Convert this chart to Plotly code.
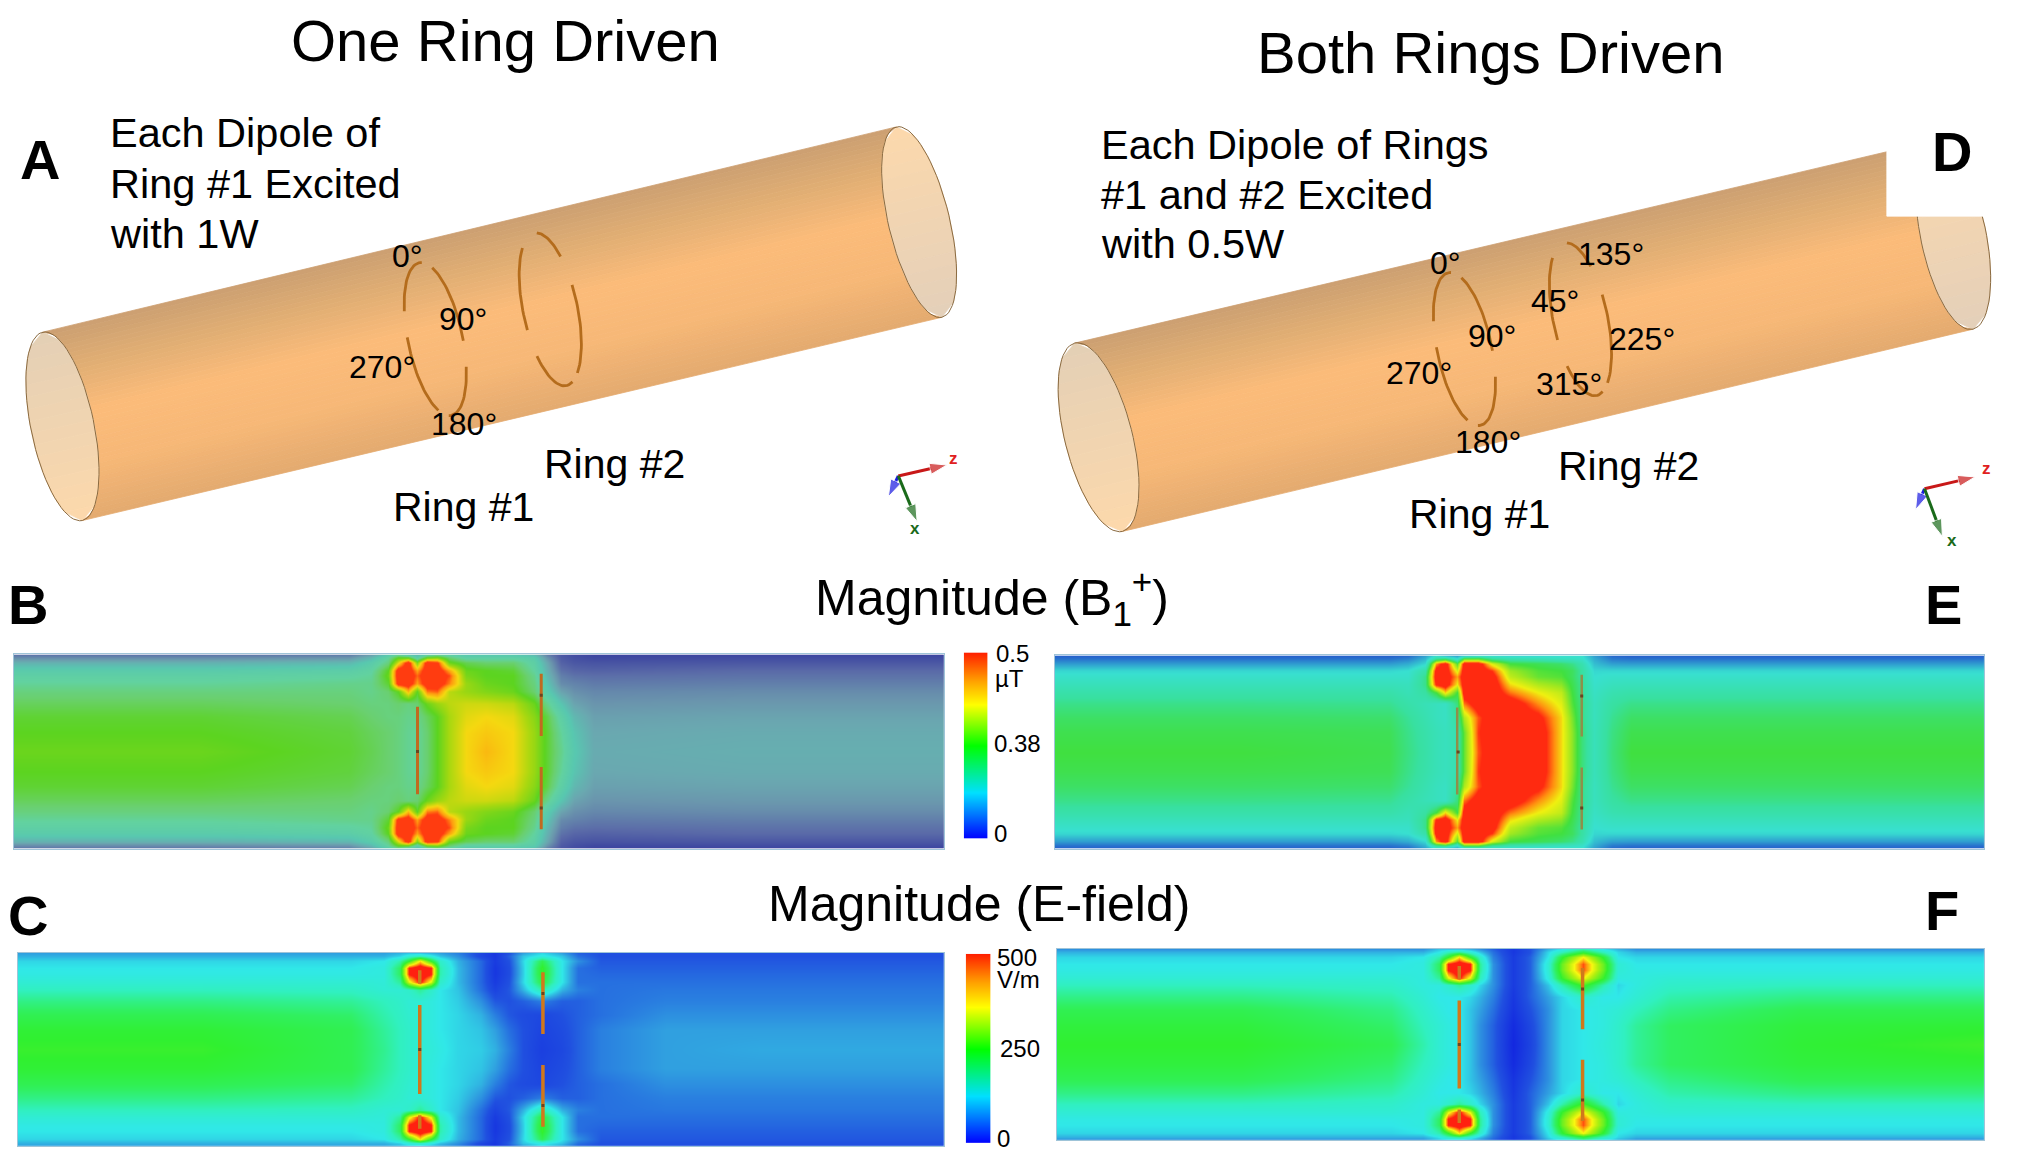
import numpy as np
import plotly.graph_objects as go

W, H = 2018, 1165
PAGE = 0.9915  # page-units to pixels for the page-wide axes

# ---------- field maps (levels 0-100 of each colour ramp) ----------
Y_HALF = [0, 1.5, 4, 8, 11, 15, 19, 25, 32, 40, 50]

B_X = [0, 20, 36, 38.4, 40.2, 41.3, 42.4, 43.3, 44.4, 45.5, 46.8, 48.6, 50.8, 53.7, 55.9, 57.3, 58.8, 60.2, 62.4, 78.4, 100]
B_Z = [
 [12,12,14,22,35,45,35,30,40,45,40,35,35,35,30,15,5,2,0,0,0],
 [18,18,20,30,45,60,60,40,62,65,52,42,42,42,38,20,6,3,1,2,2],
 [28,28,30,38,50,75,100,65,100,95,62,55,52,52,42,25,8,5,4,5,5],
 [38,38,40,44,60,100,100,85,100,100,85,62,60,58,45,28,12,9,8,10,10],
 [42,42,44,46,62,100,100,90,100,100,92,64,60,60,48,30,15,12,11,12,12],
 [46,46,48,48,58,98,100,85,100,100,88,68,62,60,50,34,18,16,14,15,15],
 [50,50,50,48,52,60,82,60,88,90,72,68,65,62,52,38,24,19,17,18,18],
 [54,54,52,50,50,52,50,52,62,68,72,74,74,72,62,48,34,24,20,21,21],
 [58,58,55,52,50,50,48,48,54,60,70,76,78,76,66,56,42,30,23,24,24],
 [60,60,57,54,52,50,47,46,52,60,70,78,80,78,68,58,46,34,25,26,26],
 [62,62,58,55,52,50,47,46,52,60,70,78,82,78,68,58,48,36,26,27,27],
]
E_X = [0, 20, 36, 38, 39.8, 41, 42, 43.3, 44, 45.5, 47, 49, 52, 54.5, 55.6, 56.7, 58, 60, 62, 78, 100]
E_Z = [
 [0,0,0,2,15,30,20,15,25,30,30,28,28,30,30,30,15,2,0,0,0],
 [4,4,4,8,20,45,50,30,60,60,45,40,38,35,34,32,18,6,4,4,4],
 [14,14,14,18,28,85,100,60,100,100,75,58,55,52,48,40,22,15,14,14,14],
 [28,28,28,30,42,98,100,75,100,100,92,68,60,58,54,44,28,28,28,28,28],
 [32,32,32,32,48,100,100,85,100,100,98,72,62,60,54,44,30,32,32,32,32],
 [37,37,37,36,48,95,100,78,100,100,100,80,70,66,56,46,32,36,37,37,37],
 [42,42,42,38,44,58,80,58,100,100,100,88,78,72,58,46,34,40,42,42,42],
 [48,48,47,42,38,36,34,50,88,100,100,100,86,76,60,48,36,44,48,48,48],
 [53,53,52,46,40,36,34,45,70,90,100,100,96,80,64,48,36,47,53,53,53],
 [56,56,55,48,42,38,36,40,62,92,100,100,100,80,66,50,37,49,56,56,56],
 [58,58,56,49,43,38,36,40,62,90,100,100,100,80,66,50,37,50,58,58,58],
]
C_X = [0, 20, 36, 39.5, 41.2, 42.2, 43.4, 44.6, 45.6, 47.5, 50, 51.5, 53, 54.5, 56.6, 58.7, 60.5, 63, 70, 80, 100]
C_Z = [
 [22,22,22,22,24,26,26,24,22,18,10,6,12,22,28,22,14,12,12,12,12],
 [24,24,24,24,28,34,38,32,26,20,10,6,14,26,32,26,16,12,12,12,12],
 [28,28,28,30,40,55,80,55,36,24,15,7,12,28,50,30,20,13,13,13,13],
 [30,30,30,32,48,94,100,94,40,25,15,6,11,27,56,30,16,14,14,14,14],
 [31,31,31,32,48,94,100,94,40,25,15,6,11,27,56,30,16,15,15,15,15],
 [34,34,34,33,42,75,95,75,36,25,15,7,12,28,52,30,16,16,16,16,16],
 [38,38,37,34,34,36,42,36,30,26,16,9,13,24,40,24,18,16,17,17,17],
 [44,44,42,38,36,34,34,32,30,27,20,13,12,14,18,14,14,16,18,18,18],
 [50,50,47,40,37,35,34,32,30,28,24,18,13,11,10,12,14,16,20,20,20],
 [54,54,50,42,38,36,34,32,30,28,26,22,16,12,9,11,14,18,22,22,22],
 [56,56,50,43,38,36,34,33,31,28,27,24,18,12,8,10,14,18,22,23,23],
]
F_X = [0, 20, 36, 39.5, 41.2, 42.2, 43.4, 44.6, 45.6, 47, 49.2, 51, 53, 54.5, 56.7, 58.9, 60.5, 62.5, 66, 80, 100]
F_Z = [
 [20,20,20,20,26,26,26,24,20,14,6,12,24,30,40,30,24,20,20,20,20],
 [24,24,24,24,30,38,42,34,26,16,6,12,28,38,52,38,28,24,24,24,24],
 [28,28,28,30,40,55,80,55,36,18,7,14,30,54,78,54,30,28,28,28,28],
 [30,30,30,32,48,94,100,94,42,20,7,14,34,62,90,62,34,30,30,30,30],
 [31,31,31,32,48,94,100,94,42,20,7,14,34,62,90,62,34,31,31,31,31],
 [34,34,34,32,42,75,95,75,38,20,7,14,32,56,78,56,32,32,34,34,34],
 [38,38,36,32,32,36,42,36,28,20,7,14,26,40,58,40,28,32,36,38,38],
 [44,44,40,34,30,30,30,28,24,18,6,14,22,28,36,30,30,34,40,44,44],
 [50,50,44,36,32,30,30,26,22,16,5,12,20,28,30,32,34,38,44,50,50],
 [53,53,47,38,34,32,30,26,20,14,3,10,20,28,30,32,36,42,48,53,54],
 [55,55,50,40,34,32,30,26,20,14,2,9,20,28,30,33,36,42,48,54,57],
]

# ---------- colour ramps ----------
B_SCALE = [[0,"#3c45a0"],[.10,"#5a6aa8"],[.20,"#6a95ad"],[.25,"#6aa8b0"],[.35,"#58c8b0"],[.45,"#62d2a0"],[.52,"#6ad070"],[.60,"#5cd420"],[.70,"#a8d810"],[.78,"#f5d810"],[.86,"#ff9a10"],[.93,"#ff3c10"],[1,"#ff3c10"]]
E_SCALE = [[0,"#2560cc"],[.15,"#30a0d0"],[.30,"#38e0d0"],[.45,"#38e0a0"],[.58,"#40e040"],[.68,"#a0e820"],[.78,"#f0f010"],[.86,"#ff9010"],[.93,"#ff2a10"],[1,"#ff2a10"]]
C_SCALE = [[0,"#1020e0"],[.12,"#2050e0"],[.22,"#30a0e0"],[.30,"#30e8e8"],[.38,"#30f0c0"],[.48,"#30f060"],[.55,"#30f030"],[.70,"#b0f010"],[.78,"#f8f810"],[.86,"#ff9010"],[.93,"#ff2010"],[1,"#ff2010"]]
BAR_SCALE = [[0,"#0000ff"],[.25,"#00e0ff"],[.5,"#00ff00"],[.72,"#ffff00"],[.85,"#ffa000"],[1,"#ff2000"]]
BAR_LEVELS = [0, 25, 50, 72, 85, 100]

BODY_STOPS = [(0, "#cca072"), (.2, "#e0ae74"), (.45, "#fcbc7a"), (.72, "#f7b877"), (1, "#e4ab70")]

fig = go.Figure()

def hex2rgb(h):
    return np.array([int(h[i:i+2], 16) for i in (1, 3, 5)], float)

def shade(s, stops):
    pos = [p for p, _ in stops]
    cols = np.array([hex2rgb(c) for _, c in stops])
    return "rgb(%d,%d,%d)" % tuple(np.interp(s, pos, cols[:, i]) for i in range(3))

def poly(xs, ys, color):
    fig.add_trace(go.Scatter(x=xs, y=ys, mode="lines", fill="toself", fillcolor=color,
                             line=dict(color=color, width=0.8), hoverinfo="skip", showlegend=False))

def ellipse_point(c, a, b, s, side):
    cost = 1 - 2 * s
    sint = np.sqrt(max(0, 1 - cost ** 2))
    return c[0] - a[0] * cost + side * b[0] * sint, c[1] - a[1] * cost + side * b[1] * sint

def cylinder(cL, aL, bL, cR, aR, bR):
    n = 44
    for i in range(n):
        s0, s1 = i / n, (i + 1) / n
        p = [ellipse_point(cL, aL, bL, s0, 1), ellipse_point(cR, aR, bR, s0, -1),
             ellipse_point(cR, aR, bR, s1, -1), ellipse_point(cL, aL, bL, s1, 1)]
        poly([q[0] for q in p] + [p[0][0]], [q[1] for q in p] + [p[0][1]], shade((s0 + s1) / 2, BODY_STOPS))
    for c, a, b, stops in ((cL, aL, bL, [(0, "#e4d0b6"), (1, "#fdd9ac")]), (cR, aR, bR, [(0, "#fdd9ac"), (1, "#e4d0ba")])):
        m = 16
        for i in range(m):
            s0, s1 = i / m, (i + 1) / m
            p = [ellipse_point(c, a, b, s0, 1), ellipse_point(c, a, b, s1, 1),
                 ellipse_point(c, a, b, s1, -1), ellipse_point(c, a, b, s0, -1)]
            poly([q[0] for q in p] + [p[0][0]], [q[1] for q in p] + [p[0][1]], shade((s0 + s1) / 2, stops))
    for c, a, b in ((cL, aL, bL), (cR, aR, bR)):
        t = np.radians(np.arange(0, 361, 5))
        fig.add_trace(go.Scatter(x=c[0] + a[0] * np.cos(t) + b[0] * np.sin(t), y=c[1] + a[1] * np.cos(t) + b[1] * np.sin(t),
                                 mode="lines", line=dict(color="#8a6a40", width=1), hoverinfo="skip", showlegend=False))

def arcs(center, a, b, ranges):
    for t0, t1 in ranges:
        t = np.radians(np.linspace(t0, t1, 24))
        fig.add_trace(go.Scatter(x=center[0] - a[0] * np.cos(t) + b[0] * np.sin(t), y=center[1] - a[1] * np.cos(t) + b[1] * np.sin(t),
                                 mode="lines", line=dict(color="#b46c1c", width=2.8), hoverinfo="skip", showlegend=False))

def triad(o, z, blue, green):
    for tip, col in ((z, "#c81818"), (blue, "#1a1ae0"), (green, "#1a6a1a")):
        fig.add_trace(go.Scatter(x=[o[0], tip[0]], y=[o[1], tip[1]], mode="lines+markers",
                                 line=dict(color=col, width=3),
                                 marker=dict(symbol="arrow", size=[0, 18], angleref="previous", color=col),
                                 hoverinfo="skip", showlegend=False))

# ---------- cylinder illustrations on a page-wide axis pair ----------
RING_1_ARCS = [(-65, 5), (25, 95), (115, 185), (-155, -85)]
RING_2_ARCS = [(5, 50), (75, 150), (165, 236), (-102, -33)]

cylinder((63, 430), (20, 95), (31, -7), (927, 224), (23, 96), (30, -7))
arcs((439, 342), (16, 77), (27, -5), RING_1_ARCS)
arcs((555, 312), (16, 77), (27, -5), RING_2_ARCS)
triad((906, 480), (955, 469), (896, 501), (925, 526))

cylinder((1108, 441), (24, 95), (33, -8), (1970, 237), (20, 95), (32, -8))
arcs((1477, 352), (16, 77), (27, -5), RING_1_ARCS)
arcs((1594, 322), (16, 77), (27, -5), RING_2_ARCS)
poly([1903, 2035, 2035, 1903, 1903], [100, 100, 218, 218, 100], "#ffffff")
triad((1941, 493), (1992, 481), (1932, 514), (1959, 541))

layout = dict(
    width=W, height=H, margin=dict(l=0, r=0, t=0, b=0, pad=0), autosize=False,
    paper_bgcolor="white", plot_bgcolor="white", showlegend=False,
    font=dict(family="Liberation Sans", color="black"),
    xaxis=dict(domain=[0, 1], range=[0, W / PAGE], visible=False, fixedrange=True),
    yaxis=dict(domain=[0, 1], range=[H / PAGE, 0], visible=False, fixedrange=True),
)

# ---------- heat panels ----------
idx = 2
def add_axes(box, **kw):
    global idx
    x0, y0, x1, y1 = [v * PAGE for v in box]
    xn, yn = f"xaxis{idx}", f"yaxis{idx}"
    layout[xn] = dict(domain=[x0 / W, x1 / W], anchor=f"y{idx}", range=kw.get("xr", [0, 100]), showticklabels=False, ticks="",
                      showgrid=False, zeroline=False, showline=kw.get("line", True), mirror=True, linecolor="#9fc4d8", linewidth=1, fixedrange=True)
    layout[yn] = dict(domain=[1 - y1 / H, 1 - y0 / H], anchor=f"x{idx}", range=kw.get("yr", [100, 0]), showticklabels=False, ticks="",
                      showgrid=False, zeroline=False, showline=kw.get("line", True), mirror=True, linecolor="#9fc4d8", linewidth=1, fixedrange=True)
    idx += 1
    return f"x{idx-1}", f"y{idx-1}"

Y_FULL = Y_HALF + [100 - v for v in Y_HALF[-2::-1]]

def panel(box, xs, half, scale, segments, mids, seg_col, seg_w):
    xa, ya = add_axes(box)
    z = half + half[-2::-1]
    fig.add_trace(go.Heatmap(x=xs, y=Y_FULL, z=z, zmin=0, zmax=100, colorscale=scale, zsmooth="best",
                             showscale=False, hoverinfo="skip", xaxis=xa, yaxis=ya))
    for sx, y0, y1 in segments:
        fig.add_trace(go.Scatter(x=[sx, sx], y=[y0, y1], mode="lines", line=dict(color=seg_col, width=seg_w),
                                 hoverinfo="skip", showlegend=False, xaxis=xa, yaxis=ya))
    fig.add_trace(go.Scatter(x=[m[0] for m in mids], y=[m[1] for m in mids], mode="markers",
                             marker=dict(symbol="square", size=3, color="#6a4420"),
                             hoverinfo="skip", showlegend=False, xaxis=xa, yaxis=ya))

def bar(box):
    xa, ya = add_axes(box, xr=[0, 1], yr=[0, 100], line=False)
    fig.add_trace(go.Heatmap(x=[0, 1], y=BAR_LEVELS, z=[[v, v] for v in BAR_LEVELS], zmin=0, zmax=100, colorscale=BAR_SCALE,
                             zsmooth="best", showscale=False, hoverinfo="skip", xaxis=xa, yaxis=ya))

R2 = [(56.7, 10, 42), (56.7, 58, 90)]
MIDS = [(43.4, 50), (56.7, 21), (56.7, 79)]
panel((14, 660, 952, 856), B_X, B_Z, B_SCALE, [(43.4, 27, 72)] + R2, MIDS, "#c06a20", 3)
panel((1064, 661, 2001, 856), E_X, E_Z, E_SCALE, [(43.3, 27, 72)] + R2, MIDS, "#8f8f4a", 2.5)
R1_C = [(43.4, 9, 16), (43.4, 27, 73), (43.4, 84, 91)]
panel((18, 961, 952, 1156), C_X, C_Z, C_SCALE, R1_C + R2, MIDS, "#d0781c", 3.5)
panel((1066, 957, 2001, 1150), F_X, F_Z, C_SCALE, R1_C + R2, MIDS, "#d0781c", 3.5)
bar((972, 658, 996, 846))
bar((974, 962, 999, 1153))

# ---------- text ----------
TITLES = [("One Ring Driven", 510, 41), ("Both Rings Driven", 1503, 53)]
PANEL_HEADS = [("Magnitude (B<sub>1</sub><sup>+</sup>)", 1000, 603), ("Magnitude (E-field)", 987, 912)]
LETTERS = [("A", 40, 161), ("D", 1969, 153), ("B", 28, 610), ("E", 1960, 610), ("C", 28, 923), ("F", 1959, 918)]
NOTES = [("Each Dipole of", 109, 134), ("Ring #1 Excited", 109, 185), ("with 1W", 109, 235),
         ("Each Dipole of Rings", 1108, 146), ("#1 and #2 Excited", 1108, 196), ("with 0.5W", 1108, 246)]
RINGS = [("Ring #2", 620, 468), ("Ring #1", 467, 511), ("Ring #2", 1642, 470), ("Ring #1", 1492, 518)]
ANGLES = [("0°", 411, 258), ("90°", 467, 322), ("270°", 385, 370), ("180°", 468, 428),
          ("0°", 1458, 265), ("90°", 1505, 339), ("270°", 1431, 376), ("180°", 1501, 446),
          ("135°", 1625, 256), ("45°", 1568, 304), ("225°", 1656, 342), ("315°", 1582, 387)]
BAR_TEXT = [("0.5", 1021, 659), ("µT", 1018, 684), ("0.38", 1026, 750), ("0", 1009, 841),
            ("500", 1026, 966), ("V/m", 1027, 988), ("250", 1029, 1057), ("0", 1012, 1148)]
AXIS_TEXT = [("z", 962, 462, "#e02020"), ("x", 923, 533, "#1a6a1a"), ("z", 2004, 473, "#e02020"), ("x", 1969, 545, "#1a6a1a")]

ann = []
def label(text, x, y, size, anchor="center", color="black", bold=False):
    ann.append(dict(text=text, x=x, y=y, xref="x", yref="y", showarrow=False, xanchor=anchor, yanchor="middle",
                    font=dict(size=size, color=color, family="Liberation Sans", weight=700 if bold else 400)))

for t, x, y in TITLES: label(t, x, y, 58)
for t, x, y in PANEL_HEADS: label(t, x, y, 50)
for t, x, y in LETTERS: label(t, x, y, 56, bold=True)
for t, x, y in NOTES: label(t, x, y, 41.5, anchor="left")
for t, x, y in RINGS: label(t, x, y, 41)
for t, x, y in ANGLES: label(t, x, y, 32)
for t, x, y in BAR_TEXT: label(t, x, y, 24)
for t, x, y, c in AXIS_TEXT: label(t, x, y, 17, color=c, bold=True)

layout["annotations"] = ann
fig.update_layout(**layout)
fig.write_html("out.html", config={"displayModeBar": False}, post_script="document.body.style.margin='0';")
